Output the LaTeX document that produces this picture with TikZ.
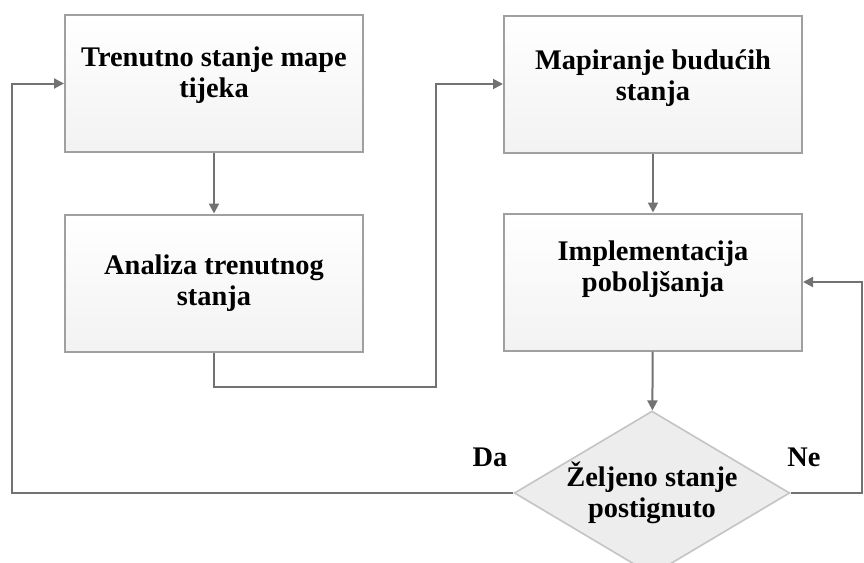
\documentclass[tikz,border=0pt]{standalone}
\usepackage{fontspec}
\setmainfont{Liberation Serif}
\usetikzlibrary{arrows.meta}
\usetikzlibrary{shapes.geometric}
\definecolor{lineGray}{HTML}{727272}
\definecolor{boxEdge}{HTML}{A0A0A0}
\definecolor{diaEdge}{HTML}{C4C4C4}

\begin{document}
\begin{tikzpicture}[x=0.5pt, y=-0.5pt,
	every node/.style = {align=center, font=\bfseries\fontsize{14.2}{15.6}\selectfont},
	stepbox/.style = {draw=boxEdge, line width=1pt, top color=white, middle color=white!98!black, bottom color=black!5,
		minimum width=149pt, minimum height=68.5pt, inner sep=0pt},
	decision/.style = {diamond, draw=diaEdge, line width=0.8pt, fill=black!7, aspect=1.68,
		minimum width=134.5pt, minimum height=80pt, inner sep=0pt},
	flow/.style = {draw=lineGray, line width=1pt, -{Triangle[length=5pt, width=5pt]}},
	plain/.style = {draw=lineGray, line width=1pt}]
	\useasboundingbox (0,0) rectangle (864,563);
	\clip (0,0) rectangle (864,563);

	\node[stepbox, text depth=11pt] (A) at (214,83.5) {Trenutno stanje mape\\tijeka};
	\node[stepbox] (B) at (214,283) {Analiza trenutnog\\stanja};
	\node[stepbox, text depth=9pt] (C) at (653,84) {Mapiranje budućih\\stanja};
	\node[stepbox, text depth=16pt] (D) at (653,282) {Implementacija\\poboljšanja};
	\node[decision] (E) at (652,493) {Željeno stanje\\postignuto};

	\node (da) at (490,457) {Da};
	\node (ne) at (804,457) {Ne};

	\coordinate (k1) at (436,387);
	\coordinate (k2) at (12,493);
	\coordinate (k3) at (862,493);

	\draw[flow] (A) -- (B);
	\draw[flow] (B.south) |- (k1) |- (C.west);
	\draw[flow] (C) -- (D);
	\draw[flow] (D) -- (E);
	\draw[flow] (E.west) -- (k2) |- (A.west);
	\draw[flow] (E.east) -- (k3) |- (D.east);
\end{tikzpicture}
\end{document}
